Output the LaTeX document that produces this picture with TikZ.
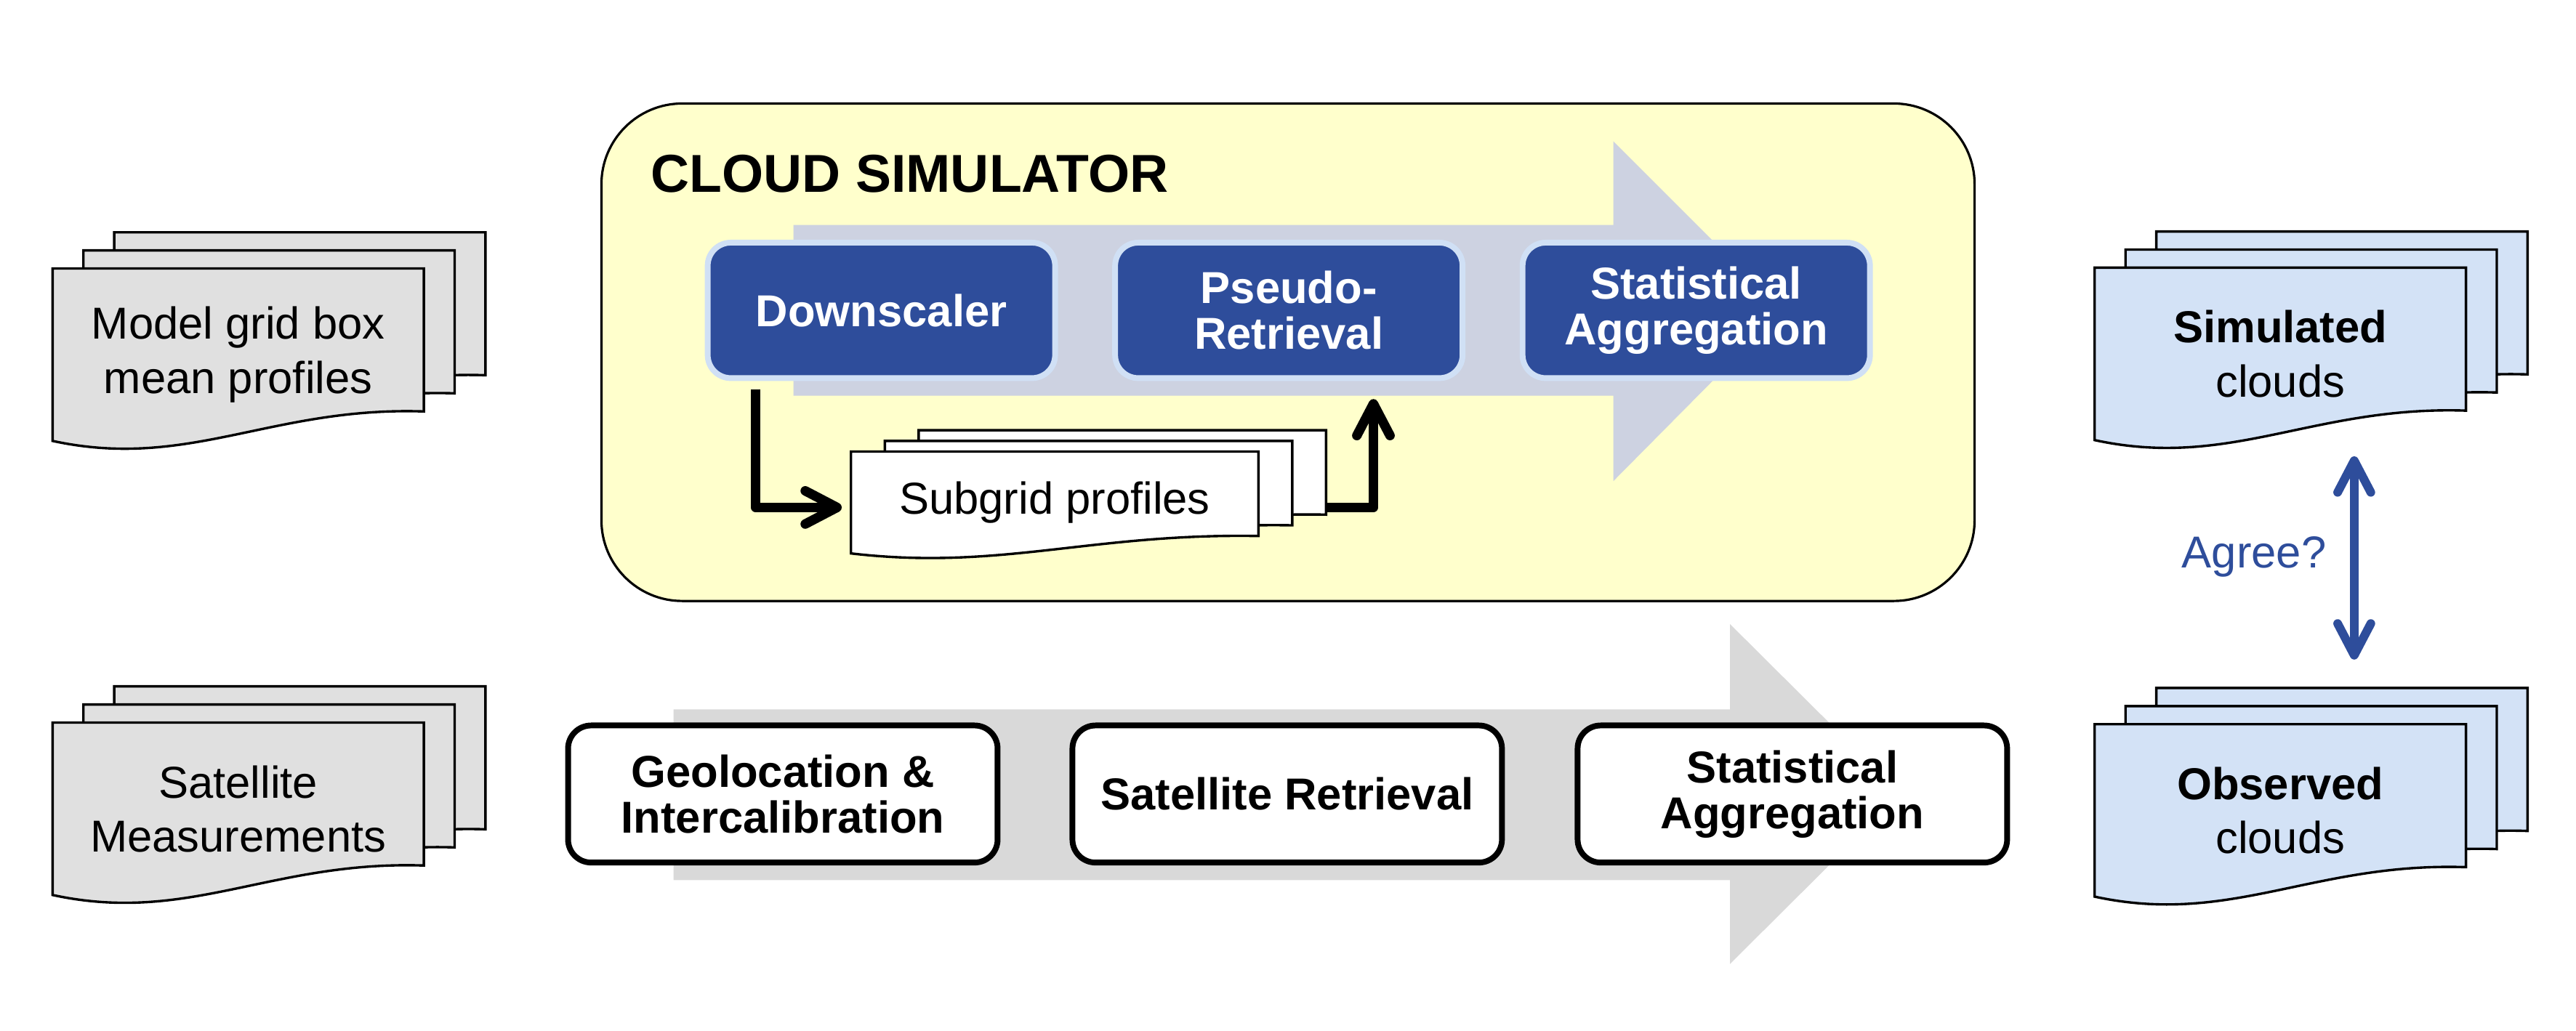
\documentclass[tikz,border=0pt]{standalone}
\usepackage{fontspec}
\setmainfont{Liberation Sans}
\usetikzlibrary{arrows.meta}

\definecolor{simyellow}{HTML}{FFFFCC}
\definecolor{simblue}{HTML}{2E4D9B}
\definecolor{simedge}{HTML}{D0E0F5}
\definecolor{simshaft}{HTML}{CDD2E1}
\definecolor{obsshaft}{HTML}{D9D9D9}
\definecolor{docgray}{HTML}{E0E0E0}
\definecolor{docblue}{HTML}{D3E2F6}

\tikzset{
  pageline/.style={draw=black,line width=0.85pt},
  pics/docpage/.style={code={
    \path[pageline,fill=#1] (0,0) -- (0,1) .. controls (0.367,1.171) and (0.588,0.8) .. (1,0.829) -- (1,0) -- cycle;
  }},
  doctext/.style={inner sep=0pt,align=center,font=\fontsize{15.5}{18.7}\selectfont},
  simbox/.style={draw=black,line width=0.8pt,fill=simyellow,rounded corners=28pt,
    minimum width=16.72cm,minimum height=6.06cm},
  simstep/.style={fill=simblue,draw=simedge,line width=2pt,rounded corners=8pt,
    minimum width=4.23cm,minimum height=1.65cm,text=white,align=center,
    font=\bfseries\fontsize{15.5}{15.9}\selectfont},
  obsstep/.style={fill=white,draw=black,line width=2pt,rounded corners=8pt,
    minimum width=5.23cm,minimum height=1.67cm,align=center,
    font=\bfseries\fontsize{15.5}{15.9}\selectfont},
  flow/.style={->,line width=3.3pt,line join=round},
  agree/.style={<->,draw=simblue,line width=3pt}
}

% stack of three pages behind a text node: name, centre x, y, width, height, fill, text
\newcommand{\docnode}[7]{%
  \foreach \i in {2,1,0}
    \pic[xscale=#4,yscale=#5] at ({#2-#4/2+0.083*#4*\i},{#3-#5/2-0.105*#5*\i}) {docpage=#6};
  \node[doctext,minimum width=#4*0.02cm,minimum height=#5*0.02cm] (#1) at (#2,#3) {#7};
}

\begin{document}
\begin{tikzpicture}[x=0.02cm,y=-0.02cm,>={Straight Barb[length=11pt,width=11.5pt,round]}]
\useasboundingbox (0,0) rectangle (1568,627.4);

% simulator
\node[simbox] (simulator) at (784,214.5) {};
\fill[simshaft] (483,137) -- (982,137) -- (982,86) -- (1085,189) -- (982,293) -- (982,241) -- (483,241) -- cycle;
\node[anchor=base west,inner sep=0pt,font=\bfseries\fontsize{18.5}{22}\selectfont] (title) at (396,117) {CLOUD SIMULATOR};
\node[simstep] (down) at (536.5,189) {Downscaler};
\node[simstep] (pseudo) at (784.5,189) {Pseudo-\\Retrieval};
\node[simstep] (simagg) at (1032.5,189) {Statistical\\Aggregation};
\docnode{subgrid}{642}{306}{248}{62}{white}{Subgrid profiles}
\draw[flow,shorten <=1mm,shorten >=3pt] ([xshift=-1.53cm]down.south) |- ([yshift=-0.06cm]subgrid.west);
\draw[flow,shorten >=0.22cm] ([xshift=0.82cm,yshift=-0.06cm]subgrid.east) -| ([xshift=1.03cm]pseudo.south);

% observations
\fill[obsshaft] (410,432) -- (1053,432) -- (1053,380) -- (1157,483.5) -- (1053,587) -- (1053,536) -- (410,536) -- cycle;
\node[obsstep] (geo) at (476.5,483.5) {Geolocation \&\\Intercalibration};
\node[obsstep] (retr) at (783.5,483.5) {Satellite Retrieval};
\node[obsstep] (obsagg) at (1091,483.5) {Statistical\\Aggregation};

% inputs and outputs
\docnode{model}{145}{216}{226}{105}{docgray}{Model grid box\\mean profiles}
\docnode{satellite}{145}{492.5}{226}{105}{docgray}{Satellite\\Measurements}
\docnode{simulated}{1388}{215.5}{226}{105}{docblue}{\textbf{Simulated}\\clouds}
\docnode{observed}{1388}{493.5}{226}{105}{docblue}{\textbf{Observed}\\clouds}
\draw[agree] ([xshift=0.9cm,yshift=-0.19cm]simulated.south) -- ([xshift=0.9cm,yshift=0.78cm]observed.north);
\node[text=simblue,font=\fontsize{15.5}{18}\selectfont] (agreelabel) at (1372,339) {Agree?};
\end{tikzpicture}
\end{document}
